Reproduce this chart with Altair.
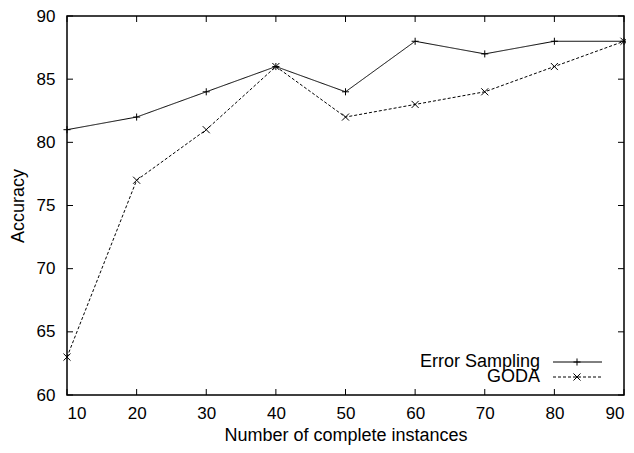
import altair as alt
import pandas as pd

x_vals = [10, 20, 30, 40, 50, 60, 70, 80, 90]
error_sampling = [81, 82, 84, 86, 84, 88, 87, 88, 88]
goda = [63, 77, 81, 86, 82, 83, 84, 86, 88]
series_names = ["Error Sampling", "GODA"]
x_ticks = [10, 20, 30, 40, 50, 60, 70, 80, 90]
y_ticks = [60, 65, 70, 75, 80, 85, 90]

W, H = 557, 379
FONT = "Liberation Sans"
FS = 17
TFS = 18
TL = 6

plus_path = "M-1,0L1,0M0,-1L0,1"
x_path = "M-1,-1L1,1M-1,1L1,-1"
DASH = [3, 2]

df = pd.DataFrame({
    "x": x_vals * 2,
    "y": error_sampling + goda,
    "series": [series_names[0]] * len(x_vals) + [series_names[1]] * len(x_vals),
})

xscale = alt.Scale(domain=[10, 90], nice=False, zero=False)
yscale = alt.Scale(domain=[60, 90], nice=False, zero=False)
xaxis = alt.Axis(values=x_ticks, title="Number of complete instances", ticks=False,
                 domain=False, grid=False, labelPadding=10, titlePadding=5)
yaxis = alt.Axis(values=y_ticks, title="Accuracy", ticks=False, domain=False,
                 grid=False, labelPadding=12, titlePadding=9)

dash_scale = alt.Scale(domain=series_names, range=[[1, 0], DASH])
shape_scale = alt.Scale(domain=series_names, range=[plus_path, x_path])

lines = alt.Chart(df).mark_line(color="black", strokeWidth=1).encode(
    x=alt.X("x:Q", scale=xscale, axis=xaxis),
    y=alt.Y("y:Q", scale=yscale, axis=yaxis),
    strokeDash=alt.StrokeDash("series:N", scale=dash_scale, legend=None),
    detail="series:N",
)
points = alt.Chart(df).mark_point(filled=False, color="black", strokeWidth=1, size=50, opacity=1).encode(
    x=alt.X("x:Q", scale=xscale, axis=xaxis),
    y=alt.Y("y:Q", scale=yscale, axis=yaxis),
    shape=alt.Shape("series:N", scale=shape_scale, legend=None),
)

xt = pd.DataFrame({"x": x_ticks})
yt = pd.DataFrame({"y": y_ticks})
tick_layers = [
    alt.Chart(xt).mark_rule(color="black", strokeWidth=1).encode(
        x=alt.X("x:Q", scale=xscale, axis=xaxis), y=alt.value(H), y2=alt.value(H - TL)),
    alt.Chart(xt).mark_rule(color="black", strokeWidth=1).encode(
        x=alt.X("x:Q", scale=xscale, axis=xaxis), y=alt.value(0), y2=alt.value(TL)),
    alt.Chart(yt).mark_rule(color="black", strokeWidth=1).encode(
        y=alt.Y("y:Q", scale=yscale, axis=yaxis), x=alt.value(0), x2=alt.value(TL)),
    alt.Chart(yt).mark_rule(color="black", strokeWidth=1).encode(
        y=alt.Y("y:Q", scale=yscale, axis=yaxis), x=alt.value(W), x2=alt.value(W - TL)),
]

legend_layers = []
leg_df = pd.DataFrame({"series": series_names})
for i, name in enumerate(series_names):
    ly = 346 + 15 * i
    d = leg_df[leg_df["series"] == name]
    legend_layers.append(alt.Chart(d).mark_text(align="right", baseline="middle", font=FONT,
                                                fontSize=TFS, color="black").encode(
        x=alt.value(473), y=alt.value(ly), text="series:N"))
    legend_layers.append(alt.Chart(d).mark_rule(color="black", strokeWidth=1,
                                                strokeDash=[1, 0] if i == 0 else DASH).encode(
        x=alt.value(486), x2=alt.value(535), y=alt.value(ly)))
    legend_layers.append(alt.Chart(d).mark_point(filled=False, color="black", strokeWidth=1,
                                                 size=50, opacity=1,
                                                 shape=plus_path if i == 0 else x_path).encode(
        x=alt.value(510), y=alt.value(ly)))

chart = alt.layer(lines, points, *tick_layers, *legend_layers).properties(
    width=W, height=H,
    padding={"left": 59, "top": 8, "right": 2, "bottom": 50},
    autosize="none",
).configure_view(stroke="black", strokeWidth=1.5).configure_axis(
    labelFont=FONT, titleFont=FONT, labelFontSize=FS, titleFontSize=TFS,
    labelColor="black", titleColor="black", titleFontWeight="normal",
)

chart.save("out.html", embed_options={"renderer": "svg", "actions": False})
